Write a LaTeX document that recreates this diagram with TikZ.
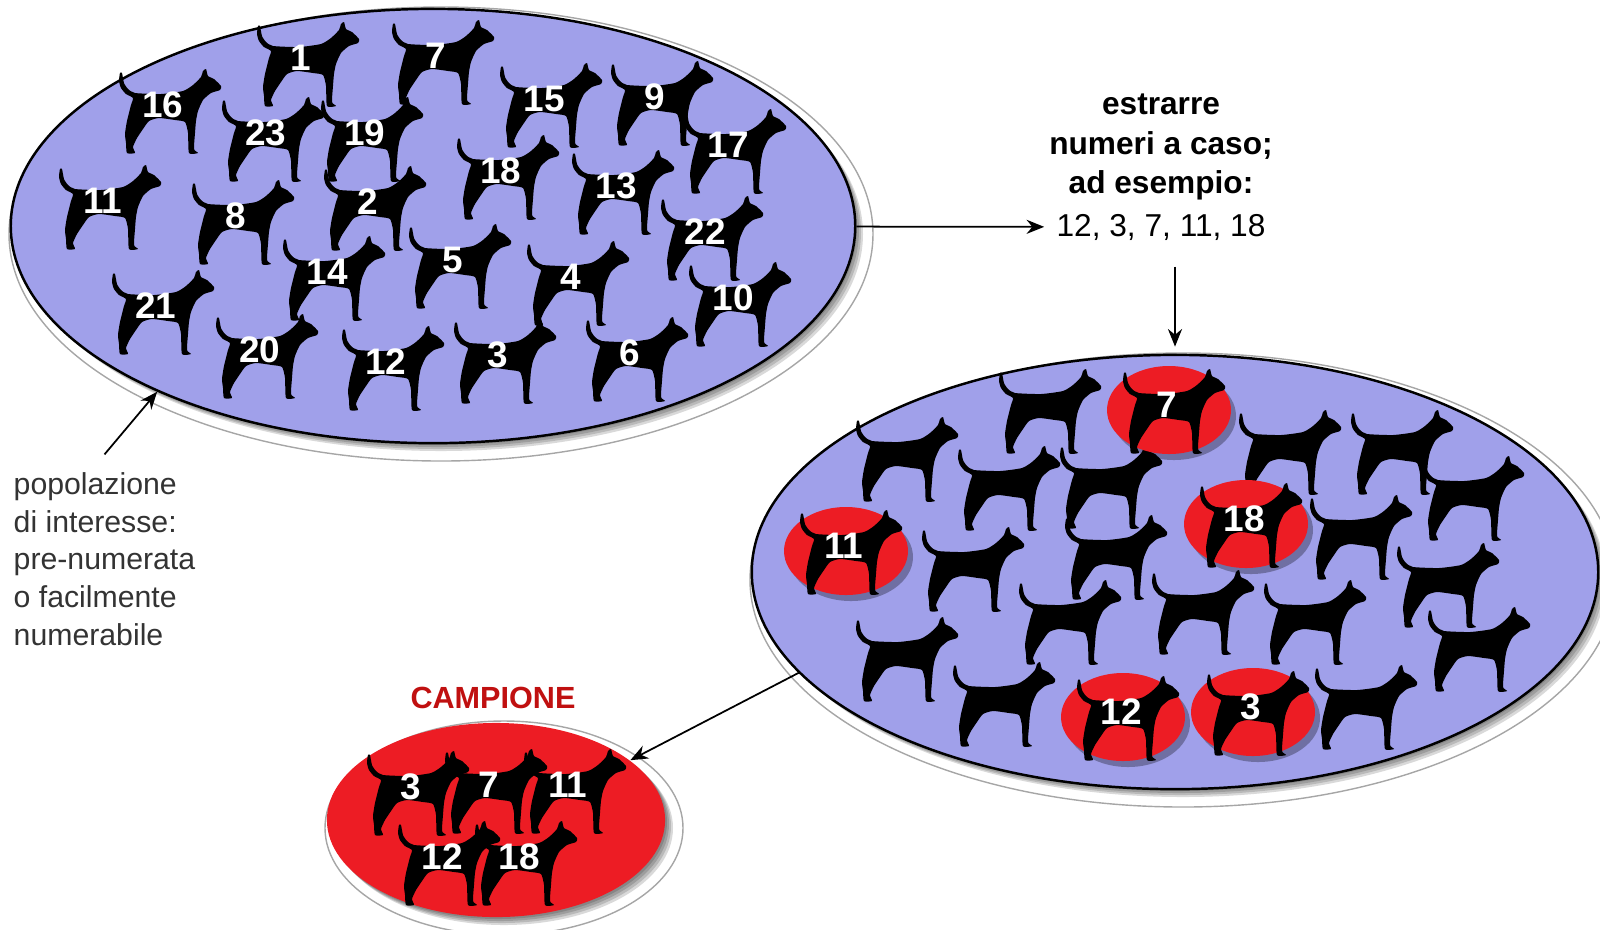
\documentclass[tikz,border=0pt]{standalone}
\usepackage{fontspec}
\setmainfont{Liberation Sans}
\usetikzlibrary{arrows.meta,scopes,shapes.geometric}

\definecolor{popblue}{RGB}{160,160,234}
\definecolor{pickred}{RGB}{237,28,36}
\definecolor{titlered}{RGB}{192,16,16}

\tikzset{
  pics/dog/.style={code={
    \fill[black,yscale=-1] plot[smooth cycle,tension=.35] coordinates {
      (-49,40) (-47,30) (-43,24) (-36,20) (-10,19) (12,22) (22,28) (30,36)
      (32,42) (35,44) (37,37) (43,34) (50,27) (49,23) (40,20) (32,13)
      (27,2) (25,-8) (24,-20) (23,-36) (27,-40) (18,-40) (17,-20) (14,-9)
      (4,-7) (-12,-5) (-22,-8) (-28,-16) (-34,-25) (-38,-34) (-36,-40)
      (-44,-40) (-45,-30) (-46,-21) (-44,-8) (-40,8) (-38,15) (-45,19)
      (-50,25) (-52,32) (-51,40)};
  }},
  pics/ndog/.style={code={
    \pic {dog};
    \node[num] at (-8,-8) {#1};
  }},
  pics/pick/.style={code={
    \fill[black,opacity=.3] (5,6) ellipse (62 and 44);
    \fill[pickred] (0,0) ellipse (62 and 44);
    \pic at (6,3) {ndog=#1};
  }},
}

\begin{document}
\begin{tikzpicture}[x=0.01cm,y=-0.01cm,
    num/.style={text=white,font=\fontsize{10.5}{12}\selectfont\bfseries,inner sep=0pt},
    pop/.style={ellipse,fill=popblue,draw=black,line width=.7pt,inner sep=0pt},
    halo/.style={draw=black!35,line width=.4pt},
    arr/.style={-{Stealth[length=5pt,width=4pt]},line width=.5pt}]
\useasboundingbox (0,0) rectangle (1600,929);

% soft shadows and outer rims
\foreach \cx/\cy/\rx/\ry in {433/226/422/217, 1175/572/423/217, 496/820/169/97} {
  \foreach \s in {2,4,6,8}
    \fill[black,opacity=.15] (\cx+\s,\cy+\s) ellipse [x radius=\rx, y radius=\ry];
  \draw[halo] (\cx+8,\cy+8) ellipse [x radius=\rx+10, y radius=\ry+10];
}

\node[pop,minimum width=8.44cm,minimum height=4.34cm] (pop) at (433,226) {};
\node[pop,minimum width=8.46cm,minimum height=4.34cm] (marked) at (1175,572) {};
\node[ellipse,fill=pickred,inner sep=0pt,minimum width=3.38cm,minimum height=1.94cm] (sample) at (496,820) {};

% numbered population
\foreach \n/\x/\y in {1/309/66, 7/444/64, 16/171/113, 23/274/141, 19/373/141,
    15/552/107, 9/663/105, 17/736/153, 11/111/209, 8/244/224, 2/376/210,
    18/509/179, 13/624/194, 22/713/240, 14/335/280, 5/461/268, 4/579/285,
    10/741/306, 21/164/314, 20/268/358, 12/394/370, 3/506/363, 6/638/361}
  \pic at (\x,\y) {ndog=\n};

% same population, drawn ones marked
\foreach \x/\y in {1051/413, 908/461, 1010/490, 1112/488, 1291/454, 1403/454,
    1474/500, 974/571, 1117/559, 1362/539, 1449/587, 908/661, 1071/624,
    1204/614, 1316/624, 1480/651, 1005/706, 1367/709}
  \pic at (\x,\y) {dog};
\foreach \n/\x/\y in {7/1169/410, 11/846/551, 18/1246/524, 12/1123/717, 3/1253/712}
  \pic at (\x,\y) {pick=\n};

% the sample
\foreach \n/\x/\y in {3/419/795, 7/497/793, 11/576/793, 12/450/865, 18/527/865}
  \pic at (\x,\y) {ndog=\n};

\node[font=\fontsize{8.7}{10}\selectfont\bfseries,text=titlered] (title) at (493,698) {CAMPIONE};
\node[font=\fontsize{9}{11.2}\selectfont\bfseries,align=center] (how) at (1161,147)
  {estrarre\\numeri a caso;\\ad esempio:};
\node[font=\fontsize{9}{11}\selectfont] (nums) at (1161,227) {12, 3, 7, 11, 18};
\node[font=\fontsize{8.6}{10.7}\selectfont,text=black!80,align=left,anchor=north west,inner sep=0pt] (lab) at (13,472)
  {popolazione\\di interesse:\\pre-numerata\\o facilmente\\numerabile};

{[arr]
  \draw (pop) -- (nums);
  \draw[shorten <=4pt,shorten >=2pt] (nums.south -| marked.north) -- (marked.north);
  \draw (marked.195) -- (sample.24);
  \draw ([yshift=5pt]lab.north) -- (pop.211);
}
\end{tikzpicture}
\end{document}
